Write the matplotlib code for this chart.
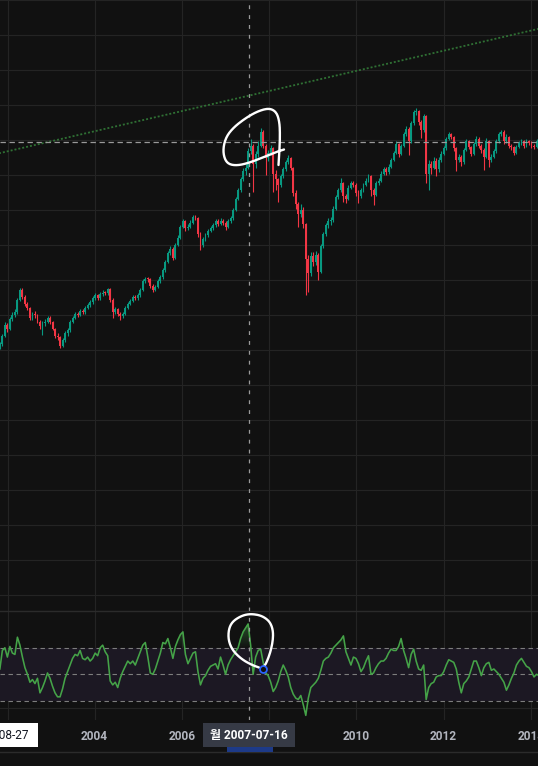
import numpy as np
import pandas as pd
import matplotlib
matplotlib.use("Agg")
import matplotlib.pyplot as plt
import matplotlib.dates as mdates
from matplotlib.path import Path
from matplotlib.lines import Line2D
from matplotlib.patches import Rectangle

# ---------------- data ----------------
start_date = "2001-10-29"
n_bars = 216
bar_step = "21D"
first_open = 520
closes = [540,600,680,650,720,750,770,860,930,880,
          830,800,730,760,750,700,670,690,700,730,
          700,650,600,590,530,570,620,640,700,730,
          760,750,780,770,800,820,840,870,890,870,
          900,910,905,935,860,770,790,760,740,760,
          800,830,850,880,870,890,930,990,1010,1005,
          960,930,950,990,1020,1070,1130,1190,1220,1160,
          1250,1300,1380,1420,1370,1380,1410,1450,1440,1330,
          1250,1290,1320,1350,1370,1390,1420,1400,1420,1410,
          1380,1420,1440,1500,1580,1640,1720,1780,1800,1920,
          1960,1830,1900,1960,2060,1960,1870,1910,1940,1760,
          1720,1680,1740,1790,1840,1870,1800,1620,1540,1470,
          1500,1400,1150,1050,1170,1130,1180,1060,1240,1330,
          1390,1420,1430,1510,1590,1640,1690,1600,1580,1660,
          1690,1680,1620,1600,1640,1680,1710,1740,1640,1610,
          1690,1710,1760,1790,1770,1810,1860,1910,1970,1900,
          1960,2040,2080,1990,2120,2200,2210,2130,2070,2170,
          1760,1830,1800,1850,1790,1860,1900,1940,2010,2040,
          2020,1940,1860,1880,1840,1930,1990,1950,1900,1970,
          2010,1960,1930,1880,1990,1860,1880,1920,1990,2040,
          2060,1990,2020,1960,1950,1910,1950,1980,1990,1960,
          1990,1980,1960,1950,1990,1970]
highs = [560,615,700,695,735,770,790,875,945,940,
         895,845,810,775,780,760,715,705,720,745,
         745,710,660,625,600,585,635,655,715,745,
         775,775,795,795,815,835,855,885,905,900,
         915,930,925,945,940,870,805,800,770,775,
         815,845,865,895,895,905,945,1005,1025,1025,
         1015,970,965,1005,1035,1085,1145,1205,1240,1235,
         1265,1320,1395,1435,1430,1400,1425,1465,1465,1450,
         1340,1305,1335,1365,1385,1405,1435,1435,1440,1435,
         1420,1435,1455,1515,1595,1655,1735,1800,1830,1940,
         2010,1970,1920,1990,2086,2070,1975,1930,1965,1950,
         1785,1730,1760,1810,1860,1890,1880,1810,1640,1560,
         1540,1520,1410,1180,1200,1200,1210,1190,1260,1345,
         1410,1440,1450,1525,1605,1660,1729,1700,1615,1675,
         1705,1710,1690,1640,1655,1695,1725,1760,1750,1655,
         1705,1730,1775,1810,1805,1825,1875,1925,1990,1980,
         1975,2055,2100,2090,2135,2215,2231,2215,2140,2185,
         2180,1860,1850,1880,1870,1880,1920,1960,2025,2055,
         2050,2030,1950,1900,1895,1945,2005,2000,1960,1985,
         2030,2020,1970,1940,2014,2000,1900,1935,2005,2060,
         2075,2070,2040,2030,1975,1960,1965,1995,2010,2000,
         2005,2000,1990,1975,2005,2000]
lows = [505,530,590,630,640,705,735,760,850,865,
        815,785,715,715,730,690,650,610,675,690,
        685,640,585,575,515,520,560,600,630,690,
        720,735,740,755,760,790,810,830,860,855,
        860,885,890,895,845,730,755,745,715,730,
        750,790,820,840,855,860,880,920,980,985,
        945,915,920,940,980,1010,1060,1120,1180,1140,
        1150,1240,1290,1370,1350,1355,1370,1400,1425,1310,
        1214,1235,1280,1310,1340,1360,1380,1385,1390,1395,
        1355,1370,1410,1430,1490,1570,1630,1710,1750,1790,
        1900,1630,1800,1880,1950,1940,1750,1850,1895,1630,
        1640,1560,1665,1725,1780,1825,1785,1600,1510,1380,
        1450,1370,893,914,1030,1100,1110,1000,1050,1225,
        1315,1370,1395,1415,1500,1580,1630,1560,1550,1570,
        1650,1665,1600,1550,1585,1630,1670,1700,1600,1536,
        1600,1675,1700,1750,1750,1760,1800,1850,1900,1880,
        1890,1950,2030,1893,1980,2110,2180,2110,2014,2060,
        1693,1643,1760,1790,1740,1770,1845,1890,1930,2000,
        2005,1925,1780,1840,1815,1830,1920,1935,1885,1890,
        1960,1945,1910,1786,1870,1807,1840,1870,1910,1980,
        2030,1975,1980,1945,1930,1895,1900,1940,1965,1945,
        1950,1965,1945,1935,1940,1955]
rsi = [54,68,70,63,71,66,65,78,72,63,
       55,50,44,46,43,47,36,40,45,51,
       47,41,36,33,33,39,47,52,57,62,
       65,64,68,62,61,63,60,62,66,64,
       70,72,67,64,45,42,44,40,47,52,
       56,60,58,60,57,62,67,72,74,63,
       51,50,54,60,66,74,73,77,70,62,
       71,76,80,82,65,58,62,66,67,52,
       42,47,49,53,56,57,58,54,63,57,
       50,57,61,64,67,70,77,82,85,88,
       72,50,63,68,69,59,51,49,44,37,
       40,45,52,57,53,48,40,35,32,31,
       34,27,19,32,40,42,44,47,53,60,
       62,63,66,70,72,74,76,79,67,62,
       57,63,62,58,52,55,60,64,50,51,
       55,58,60,60,62,66,69,68,68,71,
       77,68,62,55,65,69,60,54,53,57,
       31,40,43,44,48,49,49,52,57,61,
       60,59,54,44,36,43,45,48,54,60,
       60,55,49,55,58,59,53,54,52,50,
       47,44,38,42,47,51,57,60,62,59,
       56,55,52,48,50,49]
grid_years = ["2002-01-01","2004-01-01","2006-01-01","2008-01-01",
              "2010-01-01","2012-01-01","2014-01-01"]
label_years = ["2004-01-01","2006-01-01","2010-01-01","2012-01-01","2014-01-01"]
year_labels = ["2004","2006","2010","2012","2014"]
crosshair_date = "2007-07-16"
crosshair_price = 1986
crosshair_label = "월 2007-07-16"
anchor_label = "2001-08-27"
trend_dates = ["2001-08-27", "2014-03-31"]
trend_values = [1894, 2799]
rsi_levels = [70, 50, 30]

# ---------------- style ----------------
W, H = 538, 766
BG = "#111111"
GRID = "#242424"
UP, DOWN = "#089981", "#f23645"
CROSS = "#9a9a9a"
plt.rcParams["font.family"] = ["Roboto", "Noto Sans CJK KR", "DejaVu Sans"]

def fy(ypx):
    return 1 - ypx / H

fig = plt.figure(figsize=(W / 100, H / 100), dpi=100, facecolor=BG)
ax = fig.add_axes([0, fy(611), 1, 611 / H])
ax2 = fig.add_axes([0, fy(720), 1, 109 / H])

days_per_px = 4383 / 523.4
xl = mdates.date2num(pd.Timestamp("2002-01-01")) - 7.5 * days_per_px
xr = xl + W * days_per_px

dates = pd.date_range(start_date, periods=n_bars, freq=bar_step)
dn = mdates.date2num(dates)
c = np.array(closes, float)
o = np.r_[first_open, c[:-1]]
hi = np.array(highs, float)
lo = np.array(lows, float)
r = np.array(rsi, float)

for a in (ax, ax2):
    a.set_facecolor(BG)
    for s in a.spines.values():
        s.set_visible(False)
    a.set_xticks([])
    a.set_yticks([])
    for d in grid_years:
        a.axvline(mdates.date2num(pd.Timestamp(d)), color=GRID, lw=0.8, zorder=0)

# main pane grid
for v in np.arange(-1250, 3001, 250):
    ax.axhline(v, color=GRID, lw=0.8, zorder=0)

# candles
cols = np.where(c >= o, UP, DOWN)
ax.vlines(dn, lo, hi, colors=cols, lw=0.8, zorder=2)
body_lo = np.minimum(o, c)
body_h = np.maximum(np.abs(c - o), 7)
ax.bar(dn, body_h, bottom=body_lo, width=16, color=cols, lw=0, zorder=3)

# trend line
tdn = mdates.date2num(pd.to_datetime(trend_dates))
ax.plot(tdn, trend_values, color="#2f7034", lw=1.3, ls=(0, (1.1, 1.1)), zorder=2)

# crosshair
cx = mdates.date2num(pd.Timestamp(crosshair_date))
ax.axhline(crosshair_price, color=CROSS, lw=0.9, ls=(0, (4.3, 2.9)), zorder=5)
ax.axvline(cx, color=CROSS, lw=0.9, ls=(0, (3.1, 4.8)), zorder=5)
ax2.axvline(cx, color=CROSS, lw=0.9, ls=(0, (3.1, 4.8)), zorder=5)

ax.set_xlim(xl, xr)
ax.set_ylim(1000 - (611 - 280) / 0.14, 3000)

# RSI pane
ax2.axhspan(rsi_levels[2], rsi_levels[0], color="#1c1823", lw=0, zorder=0.5)
for lv in rsi_levels:
    ax2.axhline(lv, color="#7d7d7d", lw=0.8, ls=(0, (4.0, 3.2)), zorder=1)
ax2.axhline(24.8, color=GRID, lw=0.8, zorder=0.6)
ax2.plot(dn, r, color="#45a348", lw=1.15, zorder=3)

poly = ax2.fill_between(dn, r, 70, where=r > 70, interpolate=True,
                        facecolor="none", edgecolor="none")
paths = poly.get_paths()
if paths:
    cp = Path.make_compound_path(*paths)
    grad = np.zeros((100, 1, 4))
    grad[..., 0], grad[..., 1], grad[..., 2] = 0.26, 0.63, 0.28
    grad[:, 0, 3] = np.linspace(0.0, 0.75, 100)
    im = ax2.imshow(grad, extent=[xl, xr, 70, 100], origin="lower",
                    aspect="auto", zorder=2, interpolation="bilinear")
    im.set_clip_path(cp, ax2.transData)
ax2.set_xlim(xl, xr)
ax2.set_ylim(50 - (720 - 674.3) / 1.325, 50 + (674.3 - 611) / 1.325)

# separators
fig.add_artist(Line2D([0, 1], [fy(611), fy(611)], color="#2b2b2b", lw=1.0))
fig.add_artist(Line2D([0, 1], [fy(752), fy(752)], color="#2b2b2b", lw=1.0))

# time axis labels (2002 and 2008 sit under the label boxes in the reference)
for d, lab in zip(label_years, year_labels):
    xpx = (mdates.date2num(pd.Timestamp(d)) - xl) / days_per_px
    fig.text(xpx / W, fy(737), lab, ha="center", va="center",
             color="#b2b5be", fontsize=8.6, fontweight="semibold")

# left anchor label box
fig.add_artist(Rectangle((0, fy(747)), 38 / W, 24 / H, transform=fig.transFigure,
                         facecolor="white", edgecolor="none", zorder=5))
fig.text(28.5 / W, fy(735.5), anchor_label, ha="right", va="center",
         color="#131722", fontsize=8.6, zorder=6)

# crosshair label box
fig.add_artist(Rectangle((203 / W, fy(747)), 92 / W, 24 / H, transform=fig.transFigure,
                         facecolor="#363a45", edgecolor="none", zorder=5))
fig.add_artist(Rectangle((227 / W, fy(752)), 46 / W, 5 / H, transform=fig.transFigure,
                         facecolor="#1d3a88", edgecolor="none", zorder=5))
fig.text(249 / W, fy(735.5), crosshair_label, ha="center", va="center",
         color="white", fontsize=8.6, fontweight="semibold", zorder=6)

# hand-drawn annotation strokes (pixel positions)
def chaikin(pts, it=3):
    p = np.array(pts, float)
    for _ in range(it):
        q = 0.75 * p[:-1] + 0.25 * p[1:]
        rr = 0.25 * p[:-1] + 0.75 * p[1:]
        p = np.vstack([p[:1], np.column_stack([q, rr]).reshape(-1, 2), p[-1:]])
    return p

stroke_top = [(278.5, 165), (279.5, 150), (280, 135), (279.5, 122), (276.5, 112),
              (269, 108), (257, 111.5), (245, 118.5), (233.5, 127.5), (226, 137),
              (223, 149), (224.5, 159), (229, 164.5), (238, 165.5), (250, 162.5),
              (264, 157), (276, 152), (284, 149.5)]
stroke_bot = [(262.5, 668), (266, 664), (270.5, 652), (273, 640), (273, 630),
              (270, 622), (264, 617), (257, 614.5), (248, 614), (240, 616.5),
              (232, 622), (228.5, 630), (228.5, 641), (233, 651), (242, 659.5),
              (252, 665), (259, 667.5)]
for s in (stroke_top, stroke_bot):
    p = chaikin(s)
    fig.add_artist(Line2D(p[:, 0] / W, 1 - p[:, 1] / H, color="white", lw=1.7,
                          solid_capstyle="round", solid_joinstyle="round", zorder=8))

fig.add_artist(Line2D([263 / W], [fy(668.5)], marker="o", ms=5.0, mfc=BG,
                      mec="#2962ff", mew=1.3, zorder=9))

fig.savefig("out.png", dpi=100, facecolor=BG)
